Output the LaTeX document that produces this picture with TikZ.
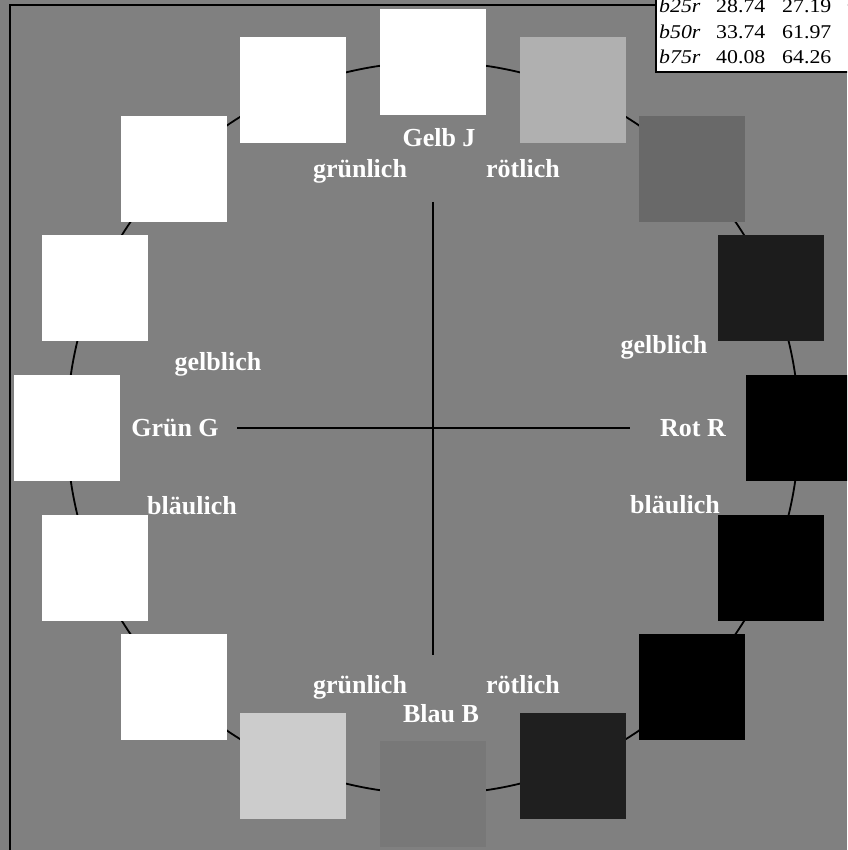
\documentclass[tikz,border=0pt]{standalone}
\usepackage{fontspec}
\setmainfont{Liberation Serif}
\newfontfamily\tabfont[FakeStretch=1.12]{Liberation Serif}
\usepackage{tikz}
\usetikzlibrary{calc}
\definecolor{bgGray}{gray}{0.5}

\begin{document}
\begin{tikzpicture}[x=1pt,y=-1pt,
patch/.style={minimum size=106pt,inner sep=0pt,outer sep=0pt},
lab/.style={anchor=base,text=white,inner sep=0pt,font=\fontsize{26}{30}\selectfont\bfseries},
tab/.style={anchor=base west,inner sep=0pt,font=\tabfont\fontsize{19.5}{22}\selectfont}]
\clip(0,0)rectangle(847,850);
\fill[bgGray](0,0)rectangle(847,850);
\draw[line width=2pt](10,900)--(10,5)--(900,5);
\coordinate(ctr)at(433,428);
\draw[line width=1.8pt](ctr)circle[radius=366pt];
% colour samples, clockwise from the top
\foreach \p[count=\i from 0]in{100,69,41,11,0,0,0,12,47,80,100,100,100,100,100,100}
\node[patch,fill=white!\p!black](sq\i)at($(ctr)+({22.5*\i-90}:366)$){};
\coordinate(west)at(237,428);
\coordinate(east)at(630,428);
\coordinate(north)at(433,202);
\coordinate(south)at(433,655);
\draw[line width=1.8pt](west)--(east)(north)--(south);
\node[lab](gelbJ)at(439,147){Gelb J};
\node[lab](gruenT)at(360,178){grünlich};
\node[lab](roetT)at(523,178){rötlich};
\node[lab](gelbL)at(218,370){gelblich};
\node[lab](gelbR)at(664,353){gelblich};
\node[lab](gruenG)at(175,436){Grün G};
\node[lab](rotR)at(693,436){Rot R};
\node[lab](blauL)at(192,514){bläulich};
\node[lab](blauR)at(675,513){bläulich};
\node[lab](gruenB)at(360,693){grünlich};
\node[lab](roetB)at(523,693){rötlich};
\node[lab](blauB)at(441,722){Blau B};
% table top right
\draw[fill=white,line width=1.4pt](656,-10)rectangle(900,72);
\foreach \n/\a/\b[count=\r from 0]in{b25r/28.74/27.19,b50r/33.74/61.97,b75r/40.08/64.26}{
\node[tab](name\r)at(659,{13+25.5*\r}){\itshape\n};
\node[tab](xval\r)at(716,{13+25.5*\r}){\a};
\node[tab](yval\r)at(782,{13+25.5*\r}){\b};
}
\end{tikzpicture}
\end{document}
